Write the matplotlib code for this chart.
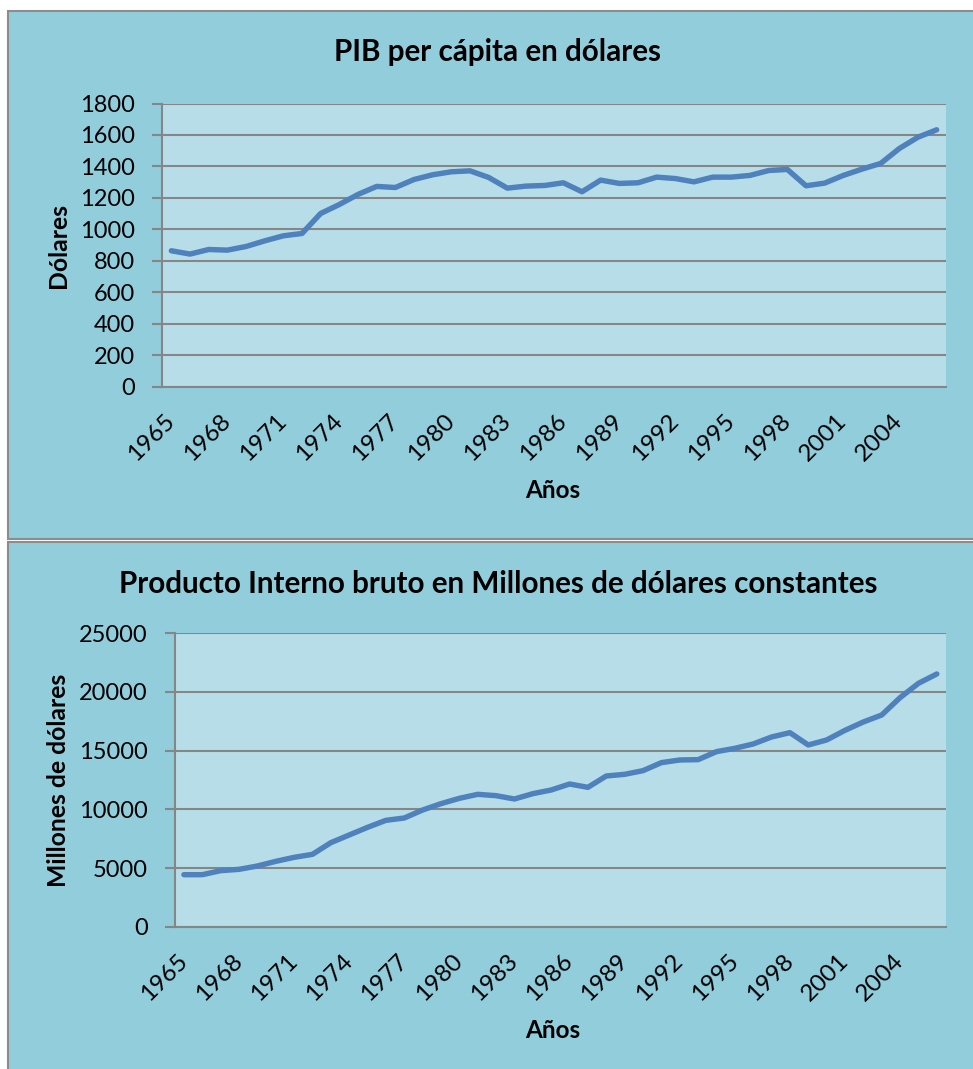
import matplotlib
matplotlib.use("Agg")
import matplotlib.pyplot as plt
import matplotlib.transforms as mtransforms
from matplotlib.patches import Rectangle

plt.rcParams['font.family'] = ['Lato', 'DejaVu Sans']

years = list(range(1965, 2007))

pib_per_capita = [
    864, 843, 872, 868, 891, 927, 959, 974, 1101, 1158,
    1222, 1273, 1266, 1317, 1347, 1366, 1372, 1330, 1262, 1275,
    1279, 1296, 1239, 1313, 1292, 1296, 1332, 1323, 1302, 1332,
    1332, 1343, 1374, 1381, 1277, 1294, 1343, 1383, 1419, 1514,
    1586, 1633,
]

pib_millones = [
    4432, 4432, 4773, 4887, 5171, 5568, 5909, 6165, 7159, 7813,
    8466, 9063, 9262, 9944, 10483, 10938, 11279, 11165, 10881, 11336,
    11648, 12159, 11875, 12841, 12983, 13296, 13978, 14205, 14233, 14915,
    15199, 15569, 16165, 16535, 15483, 15910, 16733, 17444, 18040, 19518,
    20739, 21535,
]

top_ticks = [0, 200, 400, 600, 800, 1000, 1200, 1400, 1600, 1800]
bottom_ticks = [0, 5000, 10000, 15000, 20000, 25000]

W, H = 973, 1069
PANEL = '#92CDDC'
PLOT = '#B7DEE8'
LINE = '#4F81BD'
GRID = '#868686'
EDGE = '#8C8C8C'

fig = plt.figure(figsize=(W / 100, H / 100), dpi=100)
fig.patch.set_facecolor('white')


def frac_box(x0, y0, x1, y1):
    return [x0 / W, 1 - y1 / H, (x1 - x0) / W, (y1 - y0) / H]


# chart panels
for (y0, y1) in [(10.7, 539.0), (541.5, 1080.0)]:
    fig.patches.append(Rectangle((8 / W, 1 - y1 / H), (990 - 8) / W, (y1 - y0) / H,
                                 transform=fig.transFigure, facecolor=PANEL,
                                 edgecolor=EDGE, linewidth=1.5, zorder=-5))


def draw_chart(box, values, ticks, ymax, title, title_y, ylabel, xlabel_y):
    ax = fig.add_axes(frac_box(*box), zorder=2)
    ax.set_facecolor(PLOT)
    x = list(range(len(years)))
    ax.plot(x, values, color=LINE, linewidth=3.9, solid_capstyle='round',
            solid_joinstyle='round', zorder=3)
    ax.set_xlim(-0.5, len(years) - 0.5)
    ax.set_ylim(0, ymax)
    ax.set_yticks(ticks)
    ax.set_yticklabels([str(t) for t in ticks], fontsize=17)
    ax.yaxis.grid(True, color=GRID, linewidth=1.5)
    ax.set_axisbelow(True)
    idx = list(range(0, len(years), 3))
    ax.set_xticks(idx)
    ax.set_xticklabels([str(years[i]) for i in idx], rotation=45, ha='right',
                       va='center', rotation_mode='anchor', fontsize=17.5)
    shift = mtransforms.ScaledTranslation(4 / 100, 0, fig.dpi_scale_trans)
    for lbl in ax.get_xticklabels():
        lbl.set_transform(lbl.get_transform() + shift)
    ax.tick_params(axis='x', length=0, pad=22)
    ax.tick_params(axis='y', length=7, width=1.5, color=GRID, pad=12.5)
    for s in ['top', 'right']:
        ax.spines[s].set_visible(False)
    for s in ['left', 'bottom']:
        ax.spines[s].set_color(GRID)
        ax.spines[s].set_linewidth(1.5)
    fig.text(498 / W, 1 - title_y / H, title, ha='center', va='center',
             fontsize=21.3, fontweight='bold')
    fig.text(59 / W, 1 - (box[1] + box[3]) / 2 / H, ylabel, ha='center', va='center',
             rotation=90, fontsize=17.8, fontweight='bold')
    fig.text(553 / W, 1 - xlabel_y / H, 'Años', ha='center', va='center',
             fontsize=17.5, fontweight='bold')
    return ax


draw_chart((162, 103.5, 946, 386.7), pib_per_capita, top_ticks, 1800,
           'PIB per cápita en dólares', 52, 'Dólares', 490)
draw_chart((174.7, 633.3, 946, 926.7), pib_millones, bottom_ticks, 25000,
           'Producto Interno bruto en Millones de dólares constantes', 584,
           'Millones de dólares', 1030)

fig.savefig('out.png', dpi=100, facecolor=fig.get_facecolor())
